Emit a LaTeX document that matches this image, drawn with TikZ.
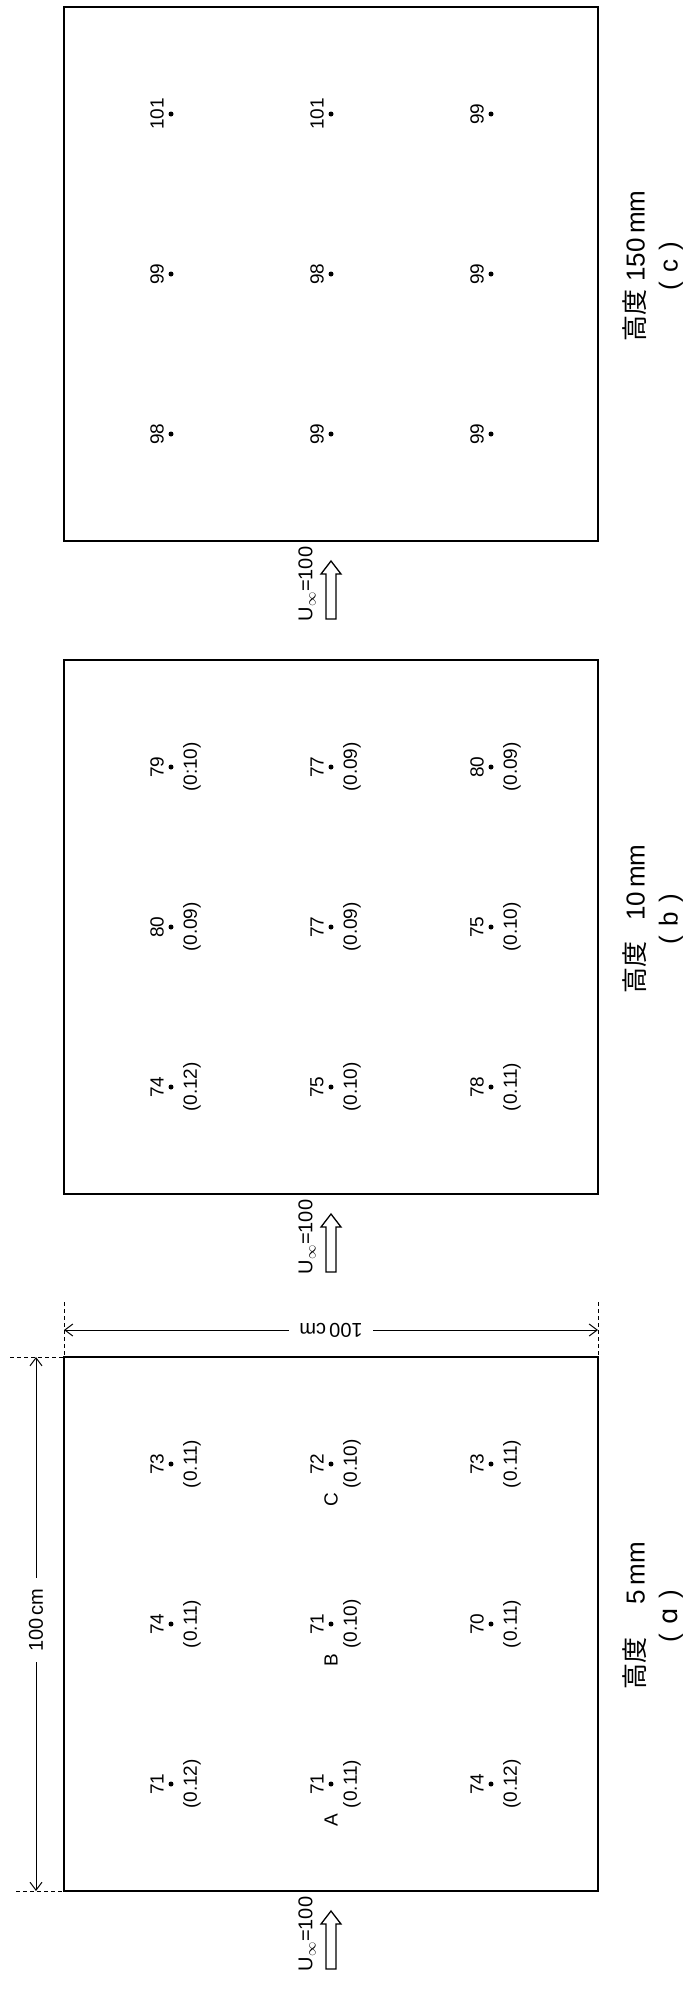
\documentclass[tikz,border=0pt]{standalone}
\usepackage{fontspec}
\setmainfont{Liberation Sans}
\newfontfamily\cjkfont{Noto Sans CJK JP}
\newfontfamily\dvfont{DejaVu Sans}
\usetikzlibrary{arrows.meta}
\tikzset{
  boxframe/.style={draw, line width=2.4pt, minimum width=534pt, minimum height=534pt, inner sep=0pt, outer sep=0pt},
  val/.style={rotate=90, font=\fontsize{19}{21}\selectfont, inner sep=0pt},
  ptdot/.style={circle, fill, inner sep=0pt, minimum size=5pt},
  ttl/.style={rotate=90, align=center, font=\fontsize{26}{33}\selectfont, inner sep=0pt},
  uinf/.style={rotate=90, font=\fontsize{20}{22}\selectfont, inner sep=0pt},
  flowarrow/.style={line width=1.3pt, line join=miter},
  dimboth/.style={line width=0.8pt, {Straight Barb[length=8pt,width=12pt,line width=1pt]}-{Straight Barb[length=8pt,width=12pt,line width=1pt]}},
  dimlabel/.style={fill=white, font=\fontsize{20}{22}\selectfont, inner xsep=10pt, inner ysep=2pt},
  extline/.style={line width=0.7pt, dash pattern=on 4pt off 3pt},
}
% #1 name, #2 x, #3 y, #4 number, #5 value
\newcommand{\mpt}[5]{%
  \node[ptdot] (#1) at (#2,#3) {};
  \node[val] (#1n) at ({#2-14},{#3}) {#4};
  \node[val] (#1v) at ({#2+21},{#3}) {#5};
}
\newcommand{\mptc}[4]{%
  \node[ptdot] (#1) at (#2,#3) {};
  \node[val] (#1n) at ({#2-14},{#3}) {#4};
}
% flow arrow: #1 name, #2 x, #3 box bottom y
\newcommand{\flow}[3]{%
  \node[uinf] (#1t) at ({#2-24},{#3+43}) {U$_{\infty}$=100};
  \draw[flowarrow] ({#2-5},{#3+78}) -- ({#2-5},{#3+33}) -- ({#2-10},{#3+33}) -- ({#2},{#3+20})
     -- ({#2+10},{#3+33}) -- ({#2+5},{#3+33}) -- ({#2+5},{#3+78}) -- cycle;
}
\begin{document}
\begin{tikzpicture}[x=1pt,y=-1pt]
\useasboundingbox (0,0) rectangle (685,1989);

% ---------- boxes ----------
\node[boxframe] (boxc) at (331,274) {};
\node[boxframe] (boxb) at (331,927) {};
\node[boxframe] (boxa) at (331,1624) {};

% ---------- box (c): 150 mm ----------
\mptc{c11}{171}{114}{101}
\mptc{c12}{171}{274}{99}
\mptc{c13}{171}{434}{98}
\mptc{c21}{331}{114}{101}
\mptc{c22}{331}{274}{98}
\mptc{c23}{331}{434}{99}
\mptc{c31}{491}{114}{99}
\mptc{c32}{491}{274}{99}
\mptc{c33}{491}{434}{99}
\node[ttl] (ttlc) at (653,266) {{\cjkfont 高度}\hspace{0.3em}150\,mm\\(\hspace{0.35em}c\hspace{0.35em})};
\flow{fc}{331}{541}

% ---------- box (b): 10 mm ----------
\mpt{b11}{171}{767}{79}{(0:10)}
\mpt{b12}{171}{927}{80}{(0.09)}
\mpt{b13}{171}{1087}{74}{(0.12)}
\mpt{b21}{331}{767}{77}{(0.09)}
\mpt{b22}{331}{927}{77}{(0.09)}
\mpt{b23}{331}{1087}{75}{(0.10)}
\mpt{b31}{491}{767}{80}{(0.09)}
\mpt{b32}{491}{927}{75}{(0.10)}
\mpt{b33}{491}{1087}{78}{(0.11)}
\node[ttl] (ttlb) at (653,919) {{\cjkfont 高度}\hspace{0.8em}10\,mm\\(\hspace{0.35em}b\hspace{0.35em})};
\flow{fb}{331}{1194}

% ---------- box (a): 5 mm ----------
\mpt{a11}{171}{1464}{73}{(0.11)}
\mpt{a12}{171}{1624}{74}{(0.11)}
\mpt{a13}{171}{1784}{71}{(0.12)}
\mpt{a21}{331}{1464}{72}{(0.10)}
\mpt{a22}{331}{1624}{71}{(0.10)}
\mpt{a23}{331}{1784}{71}{(0.11)}
\mpt{a31}{491}{1464}{73}{(0.11)}
\mpt{a32}{491}{1624}{70}{(0.11)}
\mpt{a33}{491}{1784}{74}{(0.12)}
\node[val] (lblC) at (331,1500) {C};
\node[val] (lblB) at (331,1660) {B};
\node[val] (lblA) at (331,1820) {A};
\node[ttl] (ttla) at (653,1616) {{\cjkfont 高度}\hspace{1.3em}5\,mm\\(\hspace{0.35em}{\dvfont ɑ}\hspace{0.35em})};
\flow{fa}{331}{1891}

% ---------- dimensions ----------
\coordinate (hdL) at (64,1330);
\coordinate (hdR) at (598,1330);
\coordinate (exL) at (64,1302);
\coordinate (exR) at (598,1302);
\draw[extline] (exL) -- (boxa.north west);
\draw[extline] (exR) -- (boxa.north east);
\draw[dimboth] (hdL) -- (hdR);
\node[dimlabel, rotate=180] (hdlab) at (331,1330) {100\,cm};

\coordinate (vdT) at (36,1357);
\coordinate (vdB) at (36,1891);
\coordinate (evT) at (10,1357);
\coordinate (evB) at (16,1891);
\draw[extline] (evT) -- (boxa.north west);
\draw[extline] (evB) -- (boxa.south west);
\draw[dimboth] (vdT) -- (vdB);
\node[dimlabel, rotate=90] (vdlab) at (36,1620) {100\,cm};
\end{tikzpicture}
\end{document}
